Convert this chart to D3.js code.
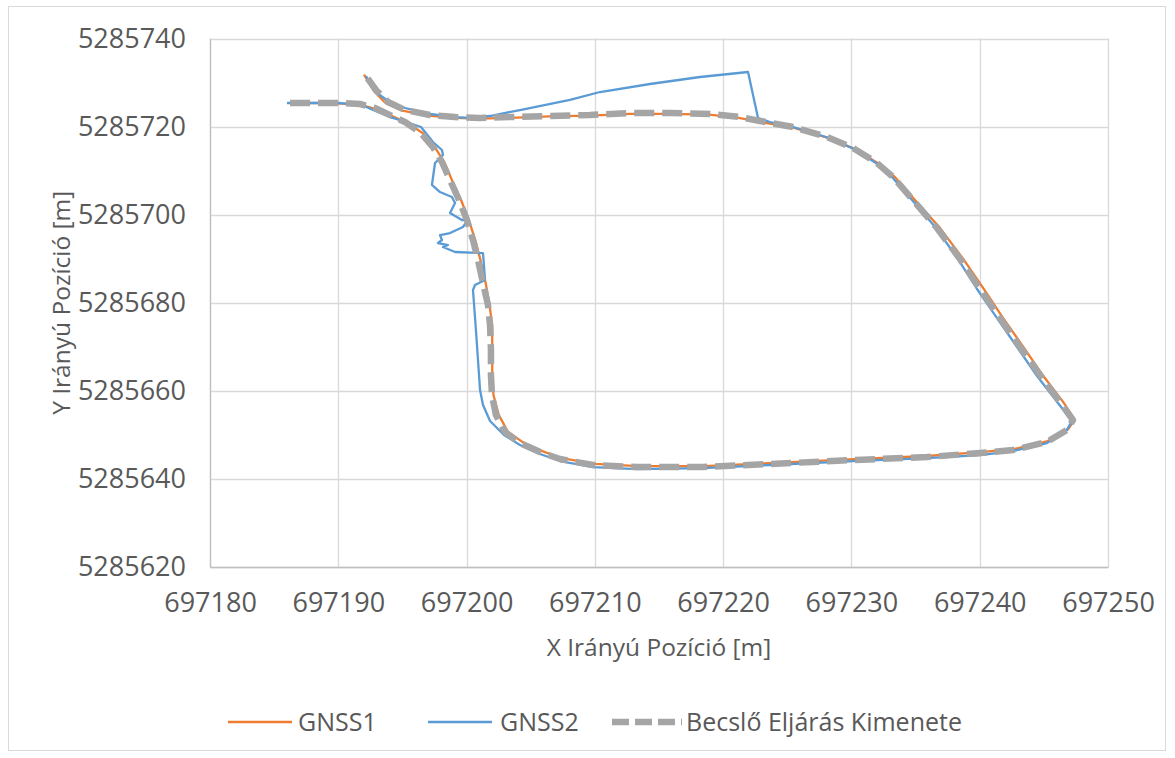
<!DOCTYPE html>
<html><head><meta charset="utf-8">
<script src="https://cdn.jsdelivr.net/npm/d3@7"></script>
<style>
body{margin:0;background:#fff}
text{font-family:"Open Sans",sans-serif;fill:#595959}
</style>
</head><body>
<svg id="chart" width="1175" height="758"></svg>
<script>
const seriesNames = ["GNSS1", "GNSS2", "Becslő Eljárás Kimenete"];
const xTicks = [697180, 697190, 697200, 697210, 697220, 697230, 697240, 697250];
const yTicks = [5285620, 5285640, 5285660, 5285680, 5285700, 5285720, 5285740];
const xTitle = "X Irányú Pozíció [m]";
const yTitle = "Y Irányú Pozíció [m]";

const gnss1 = [
[697186.6,5285725.2],[697188.0,5285725.4],[697190.3,5285725.2],[697191.8,5285724.9],[697193.0,5285723.9],
[697194.4,5285722.1],[697195.4,5285720.8],[697196.6,5285718.5],[697197.6,5285715.0],[697198.3,5285711.7],
[697198.9,5285707.6],[697199.6,5285703.1],[697200.2,5285698.6],[697200.7,5285694.0],[697201.1,5285689.5],
[697201.5,5285684.3],[697201.8,5285679.3],[697202.0,5285674.8],[697202.0,5285669.1],[697202.0,5285663.4],
[697202.1,5285659.0],[697202.5,5285654.6],[697203.2,5285650.8],[697204.4,5285648.3],[697205.9,5285646.3],
[697207.4,5285644.7],[697210.0,5285643.4],[697213.4,5285642.9],[697218.5,5285642.9],[697223.7,5285643.6],
[697230.2,5285644.5],[697235.9,5285645.2],[697240.1,5285646.1],[697242.7,5285646.8],[697245.3,5285648.6],
[697246.9,5285651.3],[697247.4,5285653.5],[697246.5,5285657.5],[697244.9,5285663.6],[697243.4,5285670.0],
[697241.8,5285676.6],[697240.3,5285683.2],[697238.7,5285690.0],[697236.9,5285697.0],[697235.5,5285701.5],
[697233.4,5285708.5],[697232.1,5285711.6],[697230.2,5285715.0],[697228.1,5285717.5],[697225.4,5285719.8],
[697222.8,5285721.1],[697221.2,5285722.0],[697218.9,5285722.7],[697215.8,5285722.9],[697212.7,5285722.9],
[697209.6,5285722.5],[697206.5,5285722.3],[697203.4,5285722.0],[697201.0,5285721.8],[697199.0,5285722.0],
[697197.0,5285722.5],[697195.0,5285723.6],[697193.7,5285725.3],[697192.8,5285728.0],[697192.0,5285731.8]
];

const gnss2 = [
[697186.00,5285725.35],[697187.80,5285725.35],[697190.13,5285725.35],[697191.85,5285724.90],[697192.71,5285723.76],
[697194.03,5285722.17],[697195.04,5285721.27],[697196.45,5285719.90],[697197.38,5285716.50],[697198.08,5285714.68],
[697198.16,5285713.55],[697197.54,5285711.73],[697197.30,5285706.74],[697197.93,5285705.14],[697198.86,5285704.01],
[697199.10,5285702.65],[697198.71,5285700.38],[697199.64,5285698.79],[697200.11,5285698.79],[697199.72,5285697.20],
[697198.71,5285695.83],[697197.93,5285695.38],[697198.08,5285694.25],[697197.77,5285693.56],[697198.55,5285693.11],
[697198.16,5285692.66],[697199.10,5285691.52],[697201.28,5285691.29],[697201.44,5285685.16],[697200.66,5285684.03],
[697200.50,5285682.89],[697200.73,5285673.81],[697200.89,5285667.00],[697201.05,5285660.19],[697201.28,5285656.78],
[697201.83,5285653.14],[697202.92,5285649.97],[697204.16,5285647.70],[697205.72,5285645.65],[697207.28,5285644.06],
[697209.85,5285642.70],[697213.28,5285642.24],[697218.43,5285642.47],[697223.65,5285643.16],[697230.12,5285644.06],
[697235.89,5285644.74],[697240.02,5285645.42],[697242.59,5285646.33],[697245.24,5285648.15],[697246.73,5285650.86],
[697247.19,5285653.14],[697246.10,5285657.23],[697244.47,5285663.36],[697242.91,5285669.95],[697241.35,5285676.53],
[697239.79,5285683.12],[697238.31,5285689.93],[697236.59,5285696.97],[697235.27,5285701.51],[697233.16,5285708.55],
[697231.91,5285711.73],[697230.04,5285715.14],[697228.02,5285717.63],[697225.45,5285719.90],[697223.65,5285721.04],
[697222.72,5285721.95],[697221.94,5285732.39],[697218.20,5285731.26],[697214.30,5285729.67],[697210.40,5285727.85],
[697208.06,5285726.04],[697204.16,5285723.76],[697201.83,5285722.40],[697200.27,5285721.95],[697199.10,5285722.17],
[697197.15,5285722.86],[697195.20,5285724.22],[697193.88,5285725.81],[697193.02,5285727.62],[697192.47,5285729.90],
[697192.16,5285731.48]
];

const estimate = [
[697186.24,5285725.35],[697187.80,5285725.35],[697190.13,5285725.35],[697191.69,5285725.13],[697192.86,5285724.22],
[697194.19,5285722.40],[697195.20,5285721.04],[697196.37,5285718.77],[697197.38,5285715.36],[697198.08,5285711.96],
[697198.71,5285707.87],[697199.41,5285703.33],[697200.03,5285698.79],[697200.50,5285694.25],[697200.89,5285689.70],
[697201.28,5285684.48],[697201.67,5285679.49],[697201.83,5285674.94],[697201.90,5285669.27],[697201.90,5285663.59],
[697201.98,5285659.05],[697202.29,5285654.51],[697203.00,5285650.65],[697204.16,5285648.15],[697205.72,5285646.11],
[697207.28,5285644.52],[697209.85,5285643.16],[697213.28,5285642.70],[697218.43,5285642.70],[697223.65,5285643.38],
[697230.12,5285644.29],[697235.89,5285644.97],[697240.02,5285645.88],[697242.59,5285646.56],[697245.24,5285648.38],
[697246.80,5285651.10],[697247.27,5285653.37],[697246.26,5285657.46],[697244.70,5285663.59],[697243.14,5285669.95],
[697241.58,5285676.53],[697240.02,5285683.12],[697238.46,5285689.93],[697236.67,5285696.97],[697235.34,5285701.51],
[697233.24,5285708.55],[697231.99,5285711.73],[697230.12,5285715.14],[697228.09,5285717.63],[697225.45,5285719.90],
[697222.87,5285721.27],[697221.31,5285722.17],[697218.98,5285722.86],[697215.86,5285723.08],[697212.74,5285723.08],
[697209.62,5285722.63],[697206.50,5285722.40],[697203.39,5285722.17],[697201.05,5285721.95],[697199.10,5285722.17],
[697197.15,5285722.63],[697195.20,5285723.76],[697193.88,5285725.58],[697192.94,5285728.31],[697191.93,5285732.39]
];

const colors = ["#ed7d31", "#5b9bd5", "#a5a5a5"];

const svg = d3.select("#chart");
const plot = {left: 210, right: 1108, top: 38.5, bottom: 567};

svg.append("rect").attr("x", 8.5).attr("y", 6.5).attr("width", 1157).attr("height", 744)
  .attr("fill", "#fff").attr("stroke", "#d9d9d9").attr("stroke-width", 1);

const x = d3.scaleLinear().domain([697180, 697250]).range([plot.left, plot.right]);
const y = d3.scaleLinear().domain([5285620, 5285740]).range([plot.bottom, plot.top]);

// gridlines
const grid = svg.append("g");
grid.selectAll("line.v").data(xTicks).join("line")
  .attr("x1", d => Math.round(x(d)) + 0.5).attr("x2", d => Math.round(x(d)) + 0.5)
  .attr("y1", plot.top).attr("y2", plot.bottom)
  .attr("stroke", "#d9d9d9").attr("stroke-width", 1.3);
grid.selectAll("line.h").data(yTicks).join("line")
  .attr("y1", d => Math.round(y(d)) + 0.5).attr("y2", d => Math.round(y(d)) + 0.5)
  .attr("x1", plot.left).attr("x2", plot.right)
  .attr("stroke", "#d9d9d9").attr("stroke-width", 1.3);

// axes
const xAxis = d3.axisBottom(x).tickValues(xTicks).tickSize(0).tickPadding(26).tickFormat(d3.format("d"));
const yAxis = d3.axisLeft(y).tickValues(yTicks).tickSize(0).tickPadding(24).tickFormat(d3.format("d"));
const gx = svg.append("g").attr("transform", `translate(0,${plot.bottom})`).call(xAxis);
const gy = svg.append("g").attr("transform", `translate(${plot.left},0)`).call(yAxis);
[gx, gy].forEach(g => {
  g.select(".domain").attr("stroke", "#bfbfbf").attr("stroke-width", 1.3);
  g.selectAll("text").style("font-family", '"Open Sans",sans-serif').style("font-size", "27px").attr("fill", "#595959");
});

svg.append("text").attr("x", (plot.left + plot.right) / 2).attr("y", 656)
  .attr("text-anchor", "middle").style("font-size", "24.5px").text(xTitle);
svg.append("text").attr("transform", `translate(70,${(plot.top + plot.bottom) / 2}) rotate(-90)`)
  .attr("text-anchor", "middle").style("font-size", "24.5px").text(yTitle);

// series
const line = d3.line().x(d => x(d[0])).y(d => y(d[1]));
const g = svg.append("g");
g.append("path").datum(gnss1).attr("d", line).attr("fill", "none")
  .attr("stroke", colors[0]).attr("stroke-width", 2.3).attr("stroke-linejoin", "round");
g.append("path").datum(gnss2).attr("d", line).attr("fill", "none")
  .attr("stroke", colors[1]).attr("stroke-width", 2.3).attr("stroke-linejoin", "round");
g.append("path").datum(estimate).attr("d", line).attr("fill", "none")
  .attr("stroke", colors[2]).attr("stroke-width", 6.5).attr("stroke-dasharray", "20,8")
  .attr("stroke-linejoin", "round");

// legend
const legendY = 722;
const legendItems = [
  {x1: 228, x2: 292, tx: 298, dash: null, w: 2.3},
  {x1: 428, x2: 492, tx: 500, dash: null, w: 2.3},
  {x1: 612, x2: 682, tx: 686, dash: "17,6", w: 6.5}
];
const lg = svg.append("g");
legendItems.forEach((it, i) => {
  const l = lg.append("line").attr("x1", it.x1).attr("x2", it.x2).attr("y1", legendY).attr("y2", legendY)
    .attr("stroke", colors[i]).attr("stroke-width", it.w);
  if (it.dash) l.attr("stroke-dasharray", it.dash);
  lg.append("text").attr("x", it.tx).attr("y", legendY).attr("dy", "0.35em")
    .style("font-size", "25px").text(seriesNames[i]);
});
</script>
</body></html>
